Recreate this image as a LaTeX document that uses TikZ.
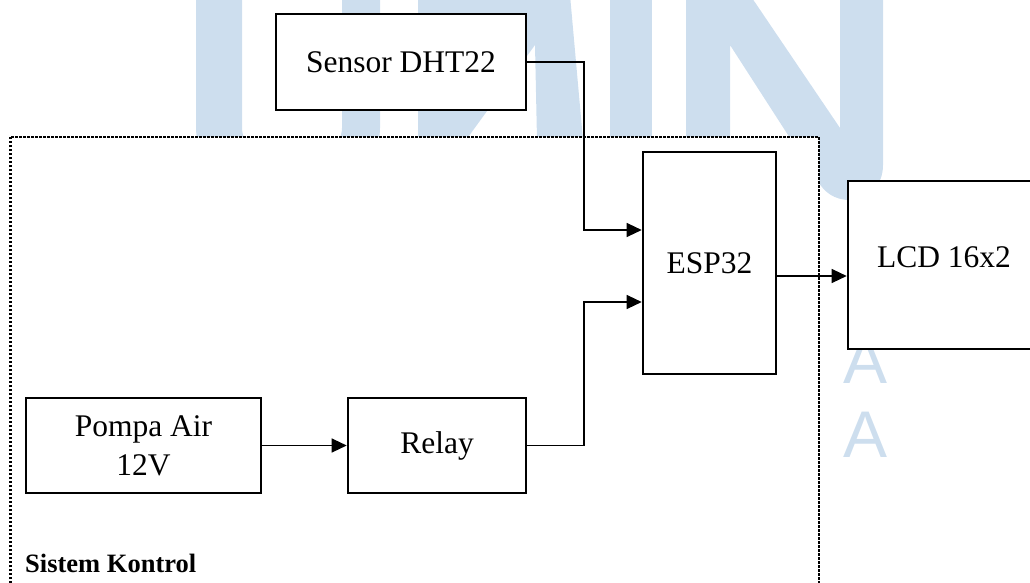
\documentclass[tikz,border=0pt]{standalone}
\usepackage{fontspec}
\setmainfont{Liberation Serif}
\newfontfamily\wmfont{Liberation Sans}
\usetikzlibrary{arrows.meta,calc}
\definecolor{wm}{RGB}{205,222,238}
\begin{document}
\begin{tikzpicture}[x=1pt,y=-1pt,
  box/.style={draw=black,line width=2.6pt,fill=white,inner sep=0pt,align=center,font=\fontsize{31.5}{39}\selectfont},
  txt/.style={inner sep=0pt,align=center,font=\fontsize{31.5}{39}\selectfont},
  conn/.style={line width=1.2pt,-{Triangle[length=15pt,width=14pt]}},
  dotbox/.style={draw=black,line width=2.3pt,dash pattern=on 2.2pt off 1.8pt,fill=white},
  wmletter/.style={text=wm,inner sep=0pt,anchor=base,font=\wmfont\fontsize{66}{66}\selectfont}]
\useasboundingbox (0,0) rectangle (1030,583);
\clip (0,0) rectangle (1030,583);
% watermark
\fill[wm] (196,-5) -- (196,128) .. controls (196,164) and (237,193) .. (288,193)
  .. controls (339,193) and (380,164) .. (380,128) -- (380,-5) -- (342,-5) -- (342,128)
  .. controls (342,147) and (318,163) .. (291,163) .. controls (264,163) and (242,147) .. (242,128)
  -- (242,-5) -- cycle;
\fill[wm] (418,-5) -- (570,-5) -- (583,140) -- (537,140) -- (535,45) -- (466,140) -- (418,140) -- cycle;
\fill[wm] (610,-5) rectangle (652,140);
\fill[wm] (686,-5) -- (750,-5) -- (840,128) -- (840,-5) -- (883,-5) -- (883,165)
  .. controls (883,186) and (868,200) .. (850,200) .. controls (834,200) and (824,192) .. (817,180)
  -- (730,45) -- (730,140) -- (686,140) -- cycle;
\node[wmletter] (wa1) at (865,383) {A};
\node[wmletter] (wa2) at (865,457) {A};
% container
\draw[dotbox] (10.5,137) rectangle (819,600);
\node[anchor=base west,inner sep=0pt,font=\bfseries\fontsize{26.5}{30}\selectfont] (title) at (25,572.5) {Sistem Kontrol};
% blocks
\node[box,minimum width=250pt,minimum height=96pt] (sensor) at (401,62) {Sensor DHT22};
\node[box,minimum width=133pt,minimum height=222pt] (esp) at (709.5,263) {ESP32};
\node[box,minimum width=192pt,minimum height=168pt] (lcd) at (944,265) {};
\node[txt] (lcdtext) at (944,257.5) {LCD 16x2};
\node[box,minimum width=235pt,minimum height=95pt] (pompa) at (143.5,445.5) {Pompa Air\\12V};
\node[box,minimum width=178pt,minimum height=95pt] (relay) at (437,445.5) {Relay};
% connectors
\coordinate (b1) at (584,230);
\coordinate (b2) at (584,302);
\draw[conn] (sensor.east) -| (b1) -- (esp.west |- b1);
\draw[conn] (relay.east) -| (b2) -- (esp.west |- b2);
\draw[conn] (pompa.east) -- (relay.west);
\coordinate (o1) at (esp.east |- 0,276);
\draw[conn] (o1) -- (lcd.west |- o1);
\end{tikzpicture}
\end{document}
